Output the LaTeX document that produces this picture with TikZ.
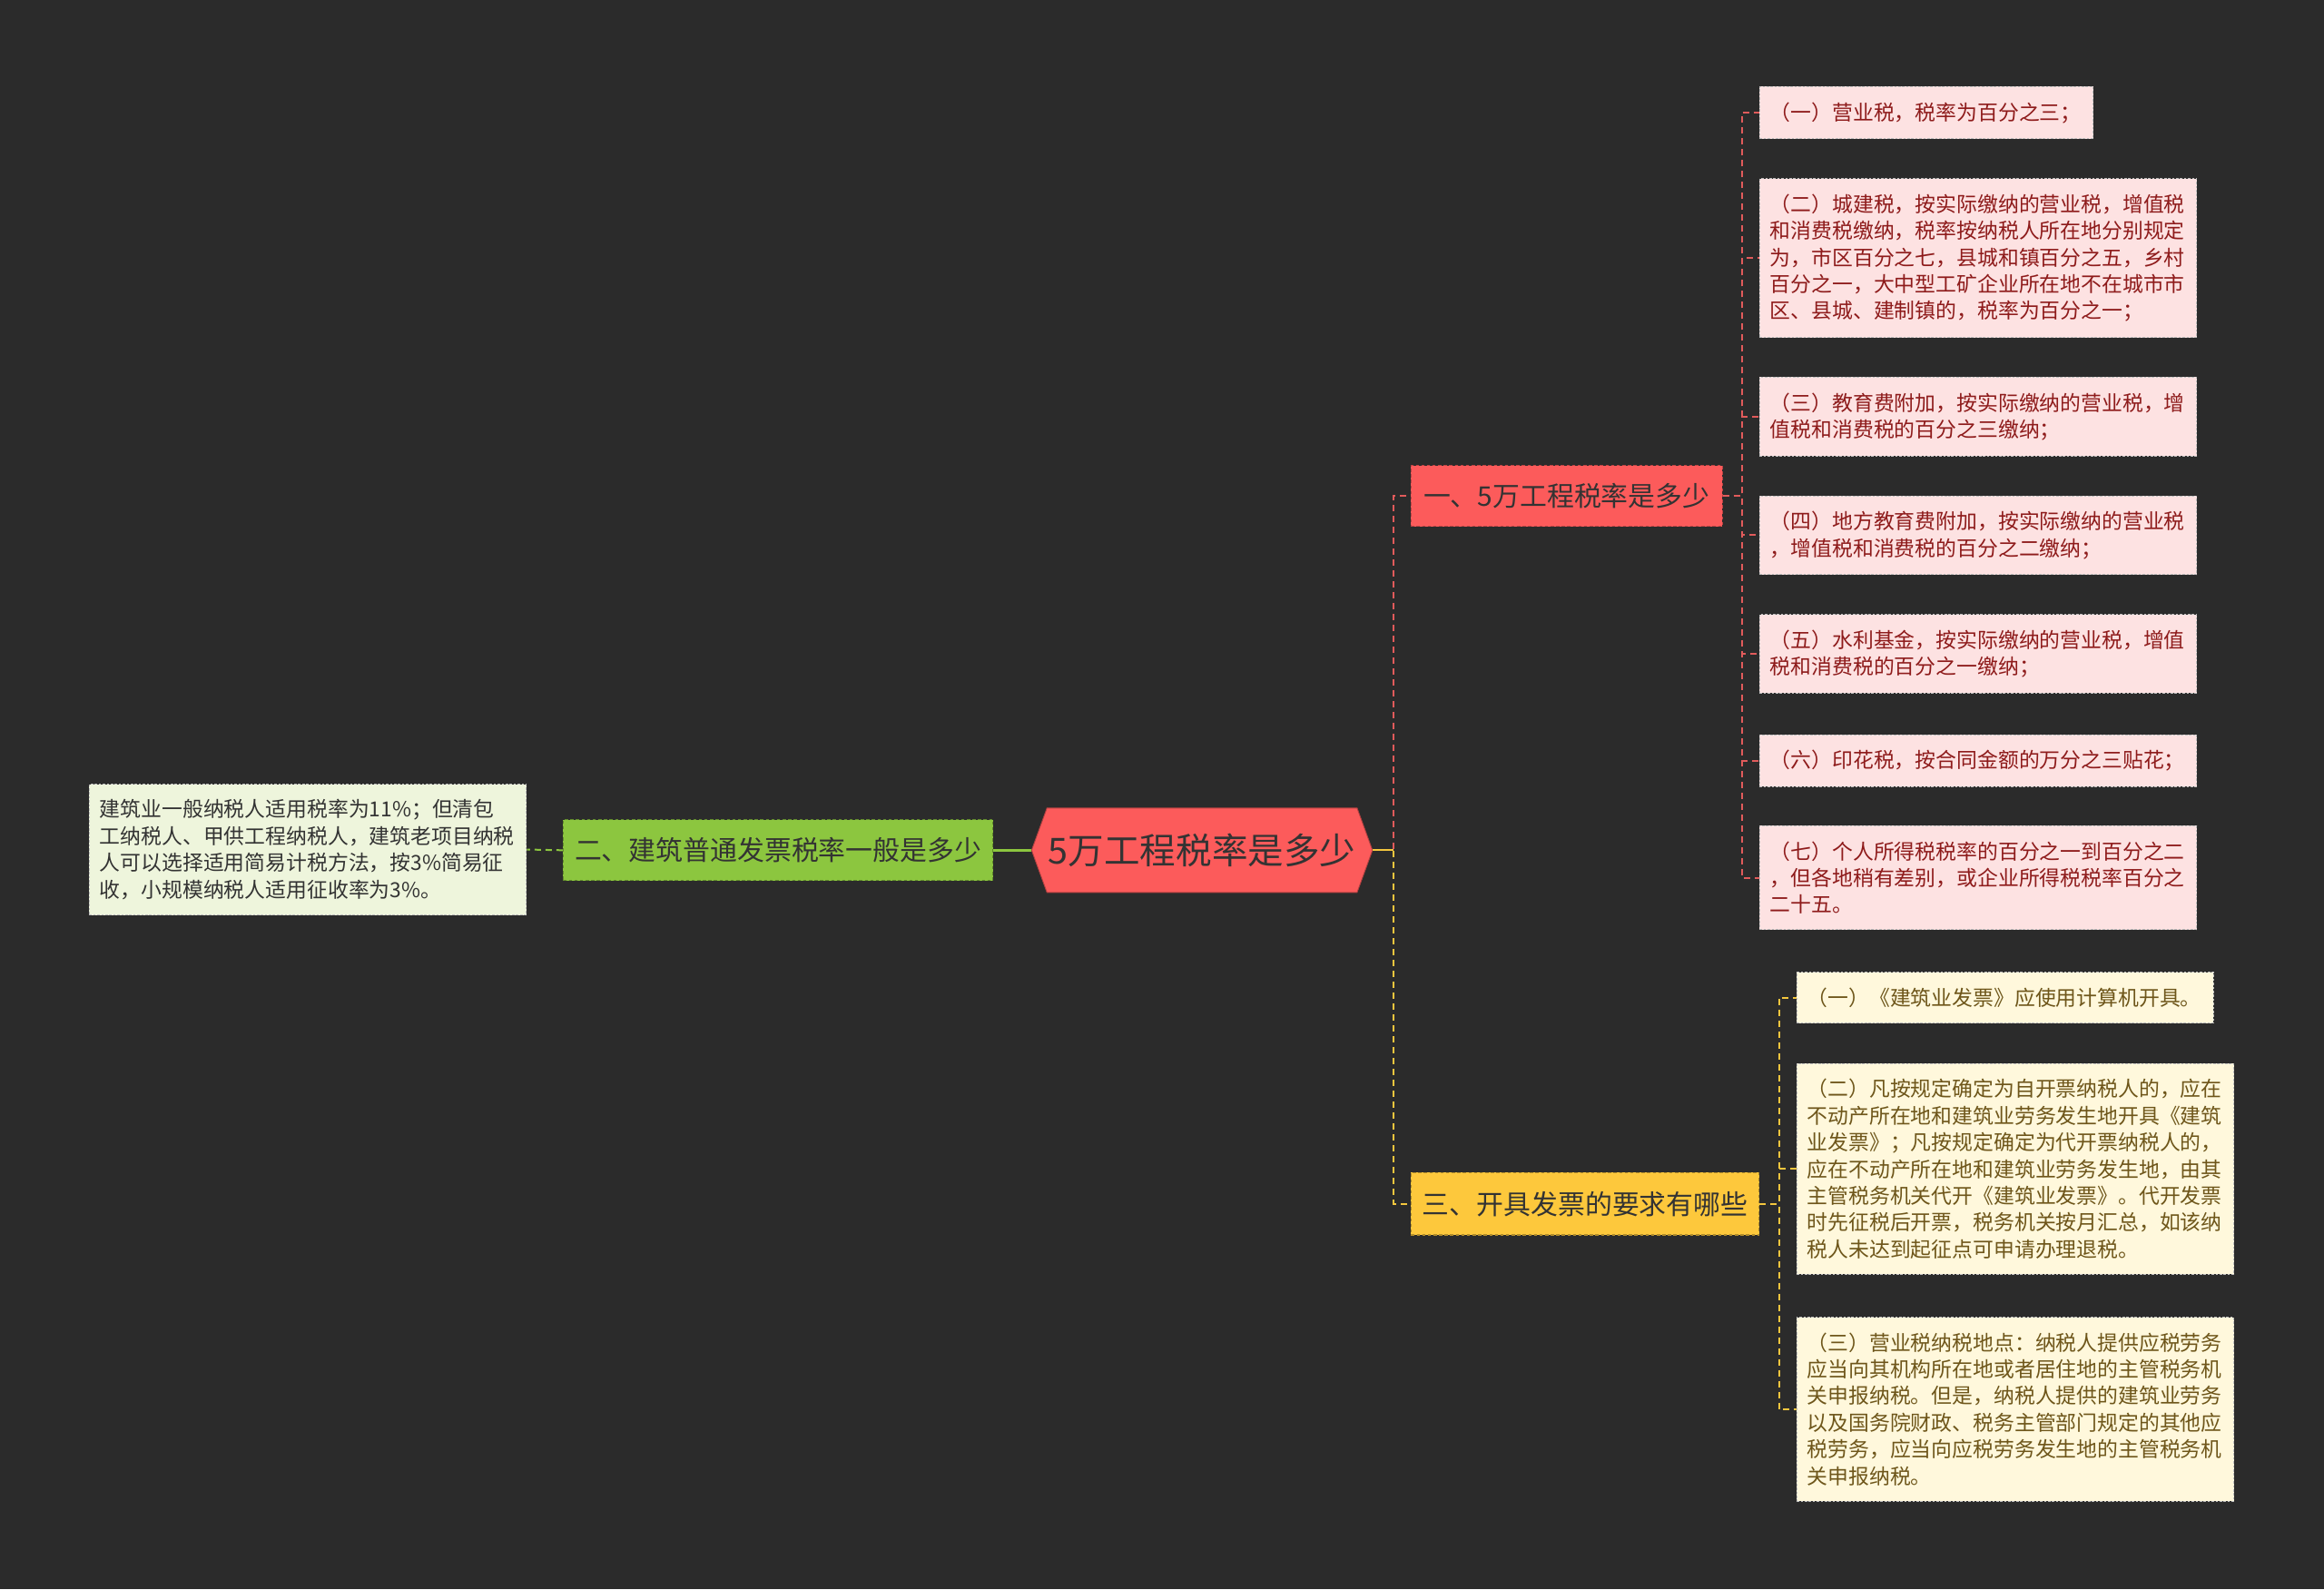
\documentclass[tikz,border=0pt]{standalone}
\usepackage{fontspec}
\setmainfont{Noto Sans CJK SC}
\usetikzlibrary{shapes.symbols}
\definecolor{bgdark}{HTML}{2B2B2B}
\definecolor{topred}{HTML}{FC5B5B}
\definecolor{redline}{HTML}{E15B5B}
\definecolor{pinkfill}{HTML}{FDE2E2}
\definecolor{pinktext}{HTML}{8E1B1B}
\definecolor{limefill}{HTML}{8CC63F}
\definecolor{limeleaf}{HTML}{EEF5DC}
\definecolor{goldfill}{HTML}{FDC83C}
\definecolor{goldline}{HTML}{F4C63E}
\definecolor{creamfill}{HTML}{FFF8DC}
\definecolor{creamtext}{HTML}{6E561A}
\definecolor{inktext}{HTML}{333333}
\begin{document}
\begin{tikzpicture}[x=0.03266cm,y=-0.03266cm,
  leaf/.style={anchor=west,align=left,inner xsep=0.23cm,inner ysep=0.34cm,draw=white!75!black,line width=0.5pt,dash pattern=on 1.5pt off 1pt,font=\fontsize{13pt}{16.73pt}\selectfont},
  pinkleaf/.style={leaf,fill=pinkfill,text=pinktext,text width=9.17cm},
  creamleaf/.style={leaf,fill=creamfill,text=creamtext,text width=9.17cm},
  branch/.style={inner sep=0pt,line width=0.6pt,dash pattern=on 2pt off 1.5pt,text=inktext,font=\fontsize{17pt}{20pt}\selectfont},
  link/.style={line width=0.04cm,dash pattern=on 0.14cm off 0.1cm}]
\fill[bgdark] (0,0) rectangle (1568,1072);          % background
\node[shape=signal,signal to=west and east,signal pointer angle=140,fill=topred,draw=topred!70!black,line width=0.5pt,minimum width=7.51cm,minimum height=1.86cm,inner sep=0pt,text=inktext,font=\fontsize{22.5pt}{26pt}\selectfont] (root) at (811,573.5) {5万工程税率是多少};
% the three branches
\node[branch,fill=topred,draw=topred!75!black,minimum width=6.86cm,minimum height=1.34cm] (rate) at (1057,334.5) {一、5万工程税率是多少};
\node[branch,fill=limefill,draw=limefill!70!black,minimum width=9.47cm,minimum height=1.34cm] (invoice) at (525,573.5) {二、建筑普通发票税率一般是多少};
\node[branch,fill=goldfill,draw=goldfill!70!black,minimum width=7.67cm,minimum height=1.37cm] (rules) at (1069.5,812) {三、开具发票的要求有哪些};
% leaves of the left branch
\node[leaf,fill=limeleaf,text=inktext,text width=9.17cm] (gen) at (60,573) {建筑业一般纳税人适用税率为11\%；但清包\\工纳税人、甲供工程纳税人，建筑老项目纳税\\人可以选择适用简易计税方法，按3\%简易征\\收，小规模纳税人适用征收率为3\%。};
% leaves of the red branch
\node[pinkleaf,text width=6.89cm] (tax1) at (1187,76) {（一）营业税，税率为百分之三；};
\node[pinkleaf] (tax2) at (1187,174) {（二）城建税，按实际缴纳的营业税，增值税\\和消费税缴纳，税率按纳税人所在地分别规定\\为，市区百分之七，县城和镇百分之五，乡村\\百分之一，大中型工矿企业所在地不在城市市\\区、县城、建制镇的，税率为百分之一；};
\node[pinkleaf] (tax3) at (1187,281) {（三）教育费附加，按实际缴纳的营业税，增\\值税和消费税的百分之三缴纳；};
\node[pinkleaf] (tax4) at (1187,361) {（四）地方教育费附加，按实际缴纳的营业税\\，增值税和消费税的百分之二缴纳；};
\node[pinkleaf] (tax5) at (1187,441) {（五）水利基金，按实际缴纳的营业税，增值\\税和消费税的百分之一缴纳；};
\node[pinkleaf] (tax6) at (1187,513) {（六）印花税，按合同金额的万分之三贴花；};
\node[pinkleaf] (tax7) at (1187,592) {（七）个人所得税税率的百分之一到百分之二\\，但各地稍有差别，或企业所得税税率百分之\\二十五。};
% leaves of the yellow branch
\node[creamleaf,text width=8.72cm] (req1) at (1212,673) {（一）《建筑业发票》应使用计算机开具。};
\node[creamleaf] (req2) at (1212,788.5) {（二）凡按规定确定为自开票纳税人的，应在\\不动产所在地和建筑业劳务发生地开具《建筑\\业发票》；凡按规定确定为代开票纳税人的，\\应在不动产所在地和建筑业劳务发生地，由其\\主管税务机关代开《建筑业发票》。代开发票\\时先征税后开票，税务机关按月汇总，如该纳\\税人未达到起征点可申请办理退税。};
\node[creamleaf] (req3) at (1212,950.5) {（三）营业税纳税地点：纳税人提供应税劳务\\应当向其机构所在地或者居住地的主管税务机\\关申报纳税。但是，纳税人提供的建筑业劳务\\以及国务院财政、税务主管部门规定的其他应\\税劳务，应当向应税劳务发生地的主管税务机\\关申报纳税。};
% connectors
\draw[limefill,line width=0.06cm] (root.west) -- (invoice.east);
\draw[link,limefill] (invoice.west) -- (gen.east);
\draw[link,redline] (root.east) -- ++(14,0) |- (rate.west);
\draw[link,goldline] (root.east) -- ++(14,0) |- (rules.west);
\draw[goldline,line width=0.04cm] (root.east) -- ++(14,0);
\foreach \i in {1,...,7} \draw[link,redline] (rate.east) -- ++(13,0) |- (tax\i.west);
\foreach \i in {1,2,3} \draw[link,goldline] (rules.east) -- ++(13,0) |- (req\i.west);
\end{tikzpicture}
\end{document}
